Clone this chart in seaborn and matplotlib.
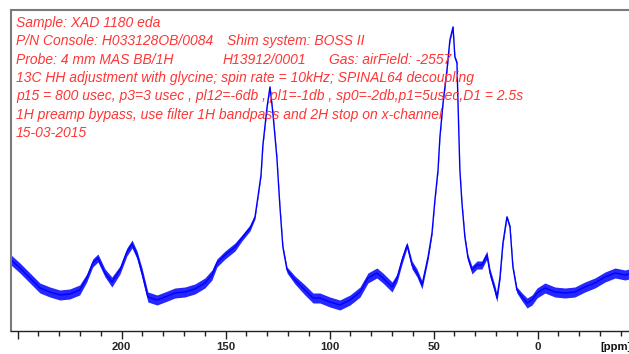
import matplotlib
matplotlib.use("Agg")
import matplotlib.pyplot as plt
from matplotlib.ticker import FixedLocator, MultipleLocator
import numpy as np
import pandas as pd
import seaborn as sns

# 13C CP/MAS spectrum, chemical shift (ppm) vs. intensity (arbitrary units)
ppm = [253.2, 248.9, 244.1, 239.3, 234.5, 229.7, 225.0, 220.2, 216.8, 213.9,
       211.4, 208.0, 204.7, 200.8, 197.5, 195.0, 192.6, 190.2, 187.4, 183.0,
       179.2, 174.4, 169.6, 164.8, 160.0, 156.6, 154.2, 150.3, 145.5, 142.2,
       138.3, 135.9, 134.5, 133.0, 132.1, 130.1, 128.7, 127.3, 125.4, 123.9,
       122.5, 120.5, 116.7, 111.9, 108.0, 104.7, 99.9, 95.1, 90.2, 85.4,
       81.6, 77.3, 74.4, 70.0, 67.6, 65.2, 62.8, 60.4, 58.0, 55.6,
       52.7, 50.8, 49.4, 47.9, 47.0, 45.5, 43.6, 42.2, 40.7, 39.8,
       38.8, 38.3, 37.4, 36.4, 35.0, 33.5, 31.6, 29.2, 26.8, 24.4,
       22.9, 20.5, 19.6, 18.1, 16.7, 14.8, 13.3, 11.9, 10.0, 7.5,
       5.1, 2.7, 0.3, -3.5, -8.3, -13.1, -17.9, -22.7, -27.5, -32.4,
       -37.2, -42.0, -43.9]

intensity = [71, 63, 53, 43, 39, 36, 37, 41, 53, 68,
             73, 58, 49, 61, 79, 87, 76, 58, 34, 31,
             34, 38, 39, 42, 48, 56, 68, 76, 84, 93,
             103, 114, 134, 156, 186, 224, 244, 218, 174, 124,
             84, 61, 51, 41, 33, 33, 29, 26, 31, 39,
             53, 58, 53, 44, 53, 71, 86, 66, 58, 46,
             74, 98, 131, 161, 194, 228, 261, 291, 304, 274,
             268, 228, 161, 128, 94, 73, 61, 66, 66, 76,
             58, 41, 33, 54, 88, 114, 104, 64, 41, 34,
             28, 31, 38, 43, 39, 38, 39, 44, 48, 54,
             58, 56, 57]

# half-height of the noise band around the trace
noise = [5, 5, 5, 5, 5, 5, 5, 5, 4, 4,
         4, 4, 5, 4, 4, 4, 4, 5, 5, 5,
         5, 5, 5, 5, 5, 5, 4, 4, 4, 3,
         3, 2, 1.5, 1.5, 1.5, 1.5, 1.5, 1.5, 1.5, 1.5,
         2, 3, 4, 5, 5, 5, 5, 5, 5, 5,
         5, 5, 5, 5, 4, 4, 3, 4, 4, 4,
         3, 2, 1.5, 1.5, 1.5, 1.5, 1.5, 1.5, 1.5, 1.5,
         1.5, 1.5, 1.5, 1.5, 2, 3, 4, 4, 4, 4,
         4, 4, 4, 3, 2, 2, 2, 2, 3, 4,
         5, 5, 5, 5, 5, 5, 5, 5, 5, 5,
         5, 5, 5]

major_ticks = [250, 200, 150, 100, 50, 0, -50]
major_labels = ["", "200", "150", "100", "50", "0", ""]

header_lines = [
    [(16, "Sample: XAD 1180 eda")],
    [(16, "P/N Console: H033128OB/0084"), (227, "Shim system: BOSS II")],
    [(16, "Probe: 4 mm MAS BB/1H"), (223, "H13912/0001"), (329, "Gas: airField: -2557")],
    [(16, "13C HH adjustment with glycine; spin rate = 10kHz; SPINAL64 decoupling")],
    [(16, "p15 = 800 usec, p3=3 usec , pl12=-6db , pl1=-1db , sp0=-2db,p1=5usec,D1 = 2.5s")],
    [(16, "1H preamp bypass, use filter 1H bandpass and 2H stop on x-channel")],
    [(16, "15-03-2015")],
]

sns.set_theme(style="white")
plt.rcParams["font.family"] = ["Liberation Sans", "DejaVu Sans"]

W, H = 629, 354
PT = 72 / 100  # points per pixel at 100 dpi
fig = plt.figure(figsize=(W / 100, H / 100), dpi=100)
fig.patch.set_facecolor("white")
ax = fig.add_axes([11 / W, (H - 331) / H, (640 - 11) / W, 321 / H])
ax.set_facecolor("white")

df = pd.DataFrame({"ppm": ppm, "intensity": intensity, "noise": noise})
lo = df["intensity"] - df["noise"]
hi = df["intensity"] + df["noise"]
ax.fill_between(df["ppm"], lo, hi, color="#0000ff", alpha=0.85, linewidth=0)
sns.lineplot(data=df, x="ppm", y="intensity", ax=ax, color="#0000ff",
             linewidth=1.0, sort=False, estimator=None)

ax.set_xlim(253.2, -49.2)
ax.set_ylim(0, 321)
ax.set_xlabel("")
ax.set_ylabel("")
ax.set_yticks([])

ax.xaxis.set_major_locator(FixedLocator(major_ticks))
ax.set_xticklabels(major_labels)
ax.xaxis.set_minor_locator(MultipleLocator(10))
ax.tick_params(axis="x", which="major", direction="out", length=8 * PT, width=1,
               color="#222222", pad=2.5, labelsize=8.2, bottom=True)
ax.tick_params(axis="x", which="minor", direction="out", length=4.5 * PT, width=1,
               color="#222222", bottom=True)
for lab in ax.get_xticklabels():
    lab.set_fontweight("bold")

for side in ("left", "top"):
    ax.spines[side].set_color("#7a7a7a")
    ax.spines[side].set_linewidth(1.5)
ax.spines["bottom"].set_color("#222222")
ax.spines["bottom"].set_linewidth(1.0)
ax.spines["right"].set_visible(False)

ax.text(-30.3, -11.5 / 321, "[ppm]", transform=ax.get_xaxis_transform(),
        ha="left", va="top", fontsize=8.2, fontweight="bold", color="#111111")

# acquisition notes, placed in figure pixels from the top-left corner
y0, dy = 23, 18.3
for i, segments in enumerate(header_lines):
    for x, s in segments:
        fig.text(x / W, 1 - (y0 + i * dy) / H, s, ha="left", va="center",
                 fontsize=10.0, fontstyle="italic", color="#ff3535")

fig.savefig("out.png", dpi=100, facecolor="white")
